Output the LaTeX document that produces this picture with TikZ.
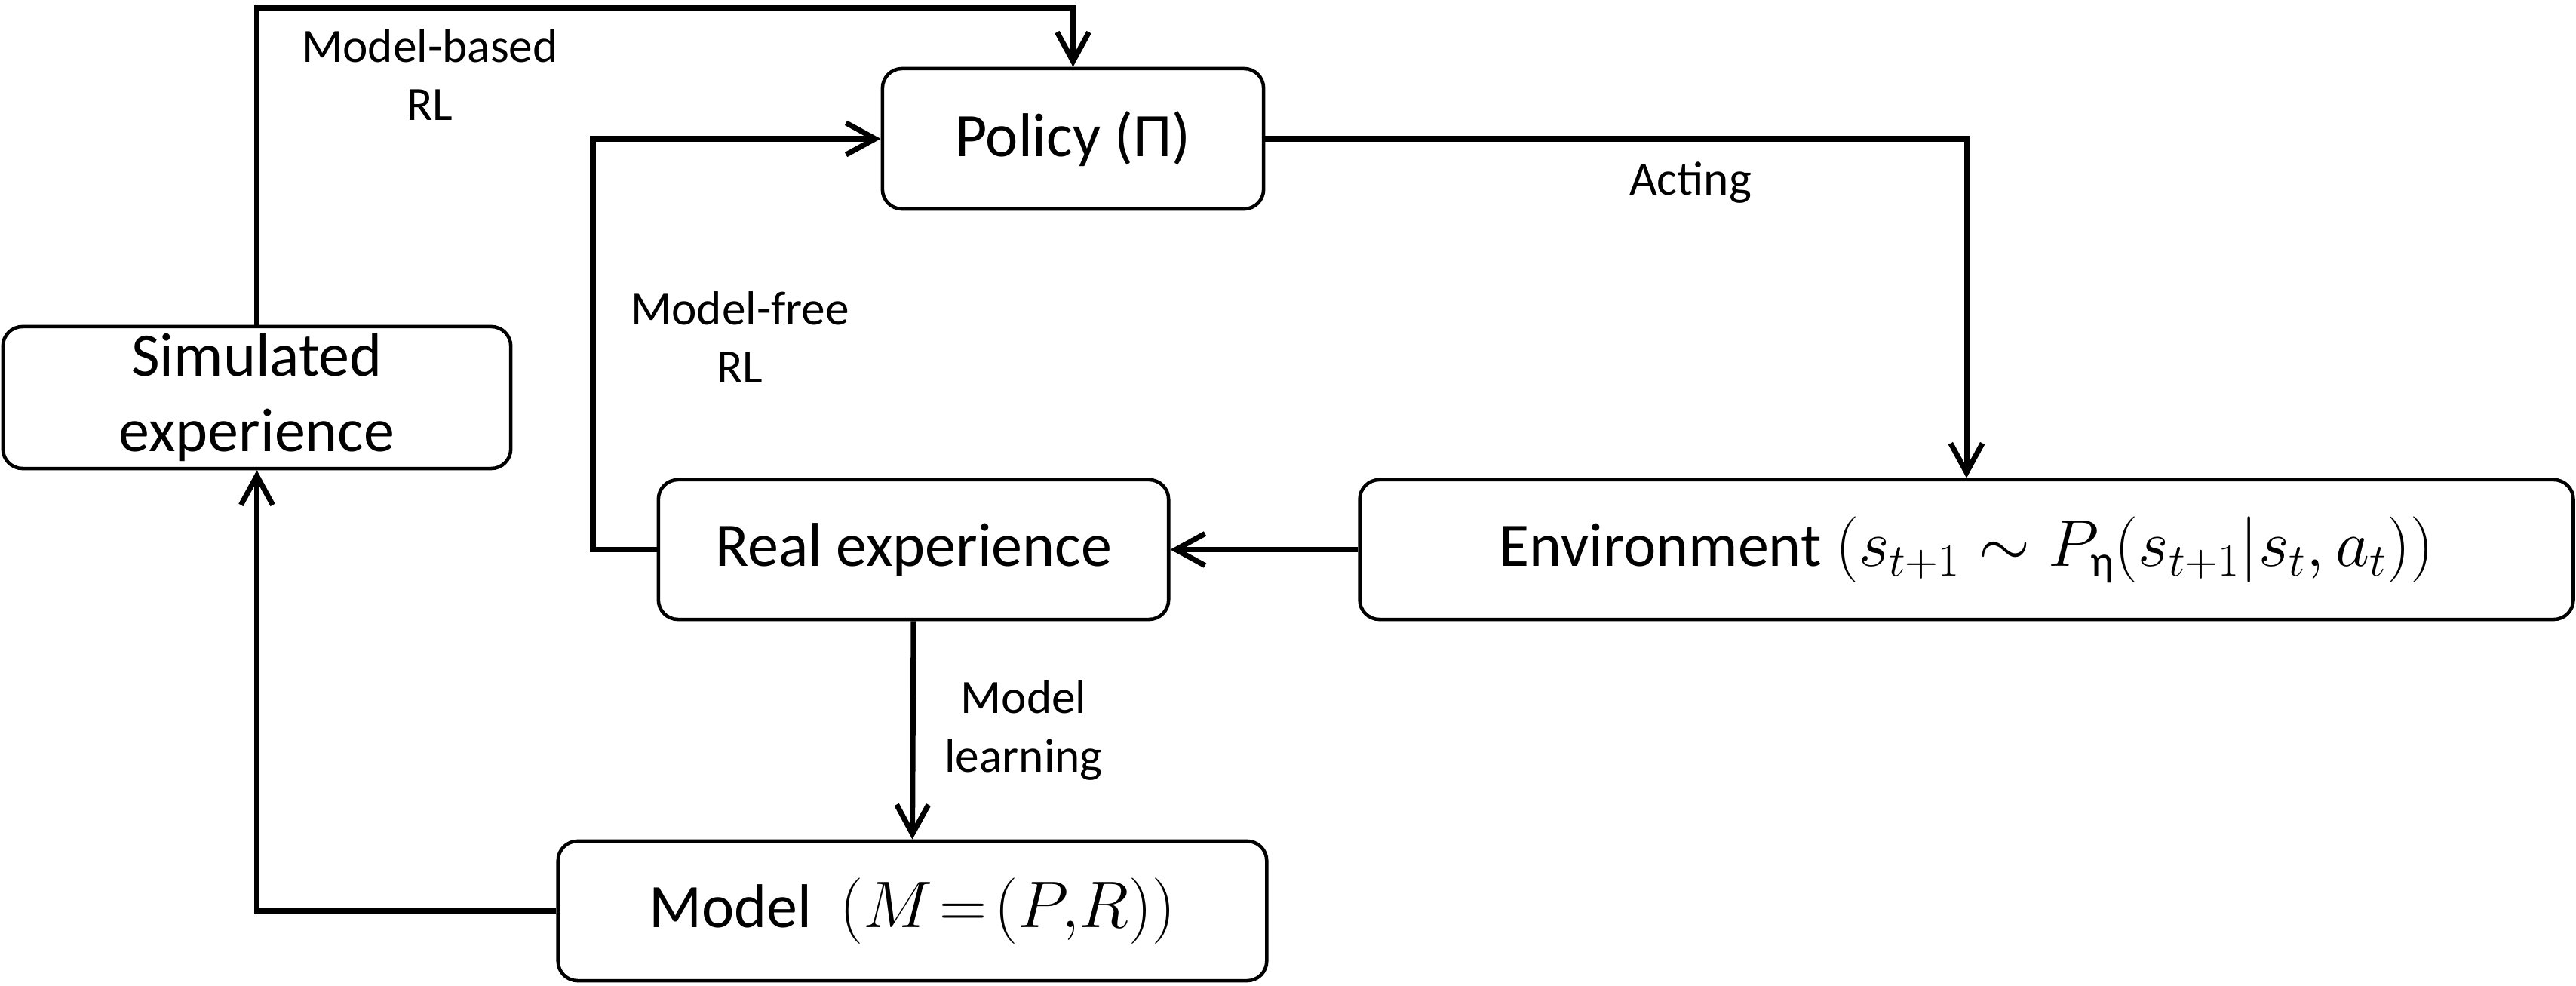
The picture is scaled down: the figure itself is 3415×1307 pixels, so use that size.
\documentclass[tikz,border=0pt]{standalone}
\usepackage{amsmath}
\usepackage{fontspec}
\setmainfont{Carlito}
\newfontfamily\grk{Carlito}
\usetikzlibrary{arrows.meta}
\tikzset{
  box/.style={draw, line width=1.3pt, rounded corners=0.26cm, align=center, inner sep=0pt,
    font=\fontsize{23.3pt}{28.5pt}\selectfont},
  lbl/.style={align=center, inner sep=0pt, font=\fontsize{18pt}{22pt}\selectfont},
  conn/.style={line width=2pt, -{Straight Barb[length=11pt,width=12pt]}},
  plain/.style={line width=2pt}
}
\begin{document}
\begin{tikzpicture}[x=0.01cm,y=-0.01cm]
\useasboundingbox (0,0) rectangle (3415,1307);
\node[box, minimum width=5.05cm, minimum height=1.86cm] (policy) at (1422.5,184) {Policy (Π)};
\node[box, minimum width=6.73cm, minimum height=1.88cm] (sim) at (340.5,527) {Simulated\\experience};
\node[box, minimum width=6.76cm, minimum height=1.85cm] (real) at (1211,728.5) {Real experience};
\node[box, minimum width=16.08cm, minimum height=1.85cm] (env) at (2607,728.5) {Environment $(s_{t+1} \sim P_{\text{\grk η}}(s_{t+1}|s_t,a_t))$};
\node[box, minimum width=9.39cm, minimum height=1.85cm] (model) at (1209.5,1207.5) {Model\ \ $(M\mkern2mu{=}\mkern2mu(P,\!R))$};
\coordinate (topline) at (0,11);
\coordinate (mfx) at (786,0);
\draw[conn] (sim.north) -- (sim.north |- topline) -| (policy.north);
\draw[conn] (real.west) -- (real.west -| mfx) |- (policy.west);
\draw[conn] (policy.east) -| (env.north);
\draw[conn] (env.west) -- (real.east);
\draw[conn] (real.south) -- (model.north);
\draw[conn] (model.west) -| (sim.south);
\node[lbl] (mb) at (570,99) {Model-based\\RL};
\node[lbl] (mf) at (981,447) {Model-free\\RL};
\node[lbl] (act) at (2241,242) {Acting};
\node[lbl] (ml) at (1357,968) {Model\\learning};
\end{tikzpicture}
\end{document}
